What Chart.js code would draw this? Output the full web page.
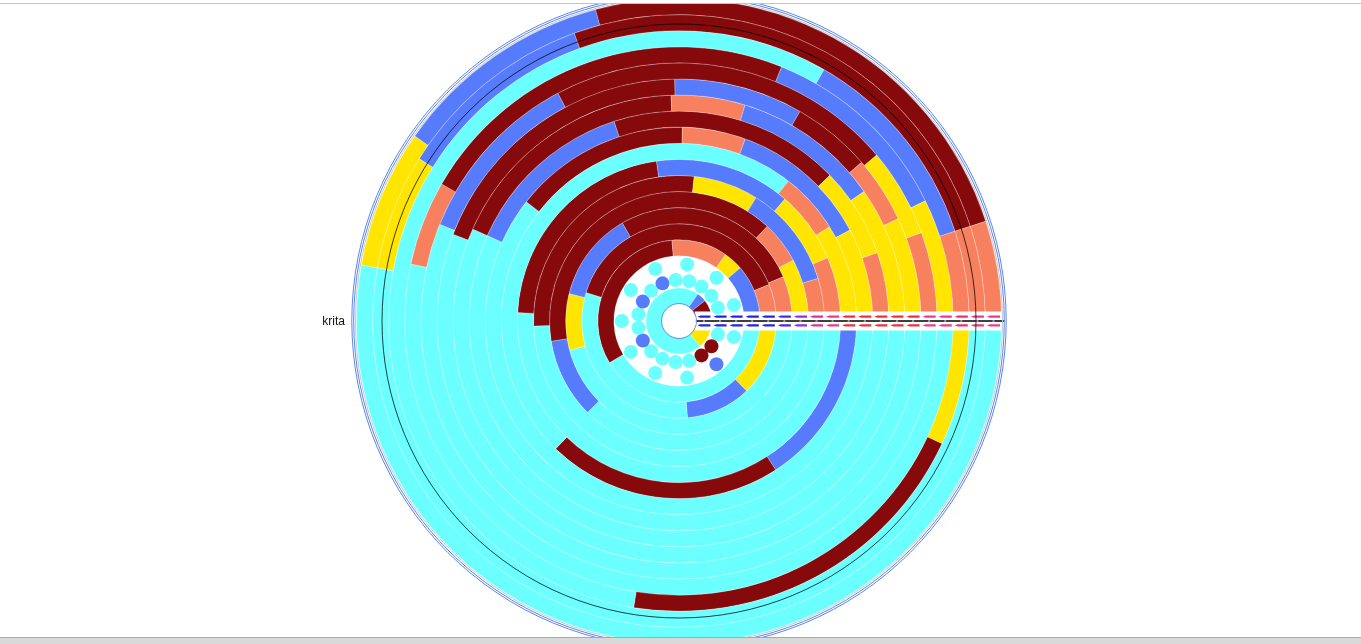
<!DOCTYPE html>
<html>
<head>
<meta charset="utf-8">
<script src="https://cdn.jsdelivr.net/npm/chart.js@4.4.1/dist/chart.umd.min.js"></script>
<style>
  html, body { margin: 0; padding: 0; background: #fff; }
  body { width: 1361px; height: 644px; position: relative; overflow: hidden; font-family: "Liberation Sans", Arial, sans-serif; }
  #topline { position: absolute; left: 0; top: 3px; width: 1361px; height: 1px; background: #c4c4c4; }
  #wrap { position: absolute; left: 0; top: 4px; width: 1361px; height: 633px; overflow: hidden; }
  #wrap canvas { position: absolute; left: 0; top: -8px; }
  #label { position: absolute; left: 300px; width: 45px; text-align: right; top: 314px; font-size: 12px; line-height: 14px; color: #111; }
  #bottombar { position: absolute; left: 0; top: 637px; width: 1361px; height: 7px; background: #d9d9d9; border-top: 1px solid #a8a8a8; }
</style>
</head>
<body>
<div id="topline"></div>
<div id="wrap">
  <canvas id="rings" width="1358" height="650"></canvas>
  <canvas id="dotsIn" width="1358" height="650"></canvas>
  <canvas id="dotsOut" width="1358" height="650"></canvas>
</div>
<div id="label">krita</div>
<div id="bottombar"></div>
<script>
const COLORS = { C: '#6bffff', B: '#567cfd', R: '#860a0c', S: '#f7805f', Y: '#ffe500' };

// ring segments, clockwise from 3 o'clock: [category, degrees]
const core   = [['Y', 50], ['C', 255], ['B', 17], ['R', 38]];
const ring1  = [['C', 149], ['R', 116], ['S', 40], ['Y', 14], ['B', 41]];
const ring2  = [['Y', 46], ['B', 39], ['C', 112], ['R', 141], ['S', 22]];
const ring3  = [['C', 165], ['Y', 29], ['B', 46], ['R', 97], ['S', 23]];
const ring4  = [['C', 135], ['B', 36], ['R', 142], ['S', 19], ['Y', 28]];
const ring5  = [['C', 178], ['R', 98], ['Y', 26], ['B', 41], ['S', 17]];
const ring6  = [['C', 183], ['R', 79], ['B', 49], ['Y', 26], ['S', 23]];
const ring7  = [['B', 57], ['R', 77], ['C', 174], ['S', 20], ['Y', 32]];
const ring8  = [['C', 218], ['R', 53], ['S', 19], ['B', 42], ['Y', 28]];
const ring9  = [['C', 204], ['B', 48], ['R', 64], ['Y', 25], ['S', 19]];
const ring10 = [['C', 204], ['R', 64], ['S', 19], ['B', 38], ['Y', 35]];
const ring11 = [['C', 201], ['R', 68], ['B', 31], ['R', 19], ['S', 16], ['Y', 25]];
const ring12 = [['C', 202], ['B', 40], ['R', 78], ['Y', 20], ['S', 20]];
const ring13 = [['C', 192], ['S', 18], ['R', 82], ['B', 42], ['Y', 26]];
const ring14 = [['Y', 25], ['R', 74], ['C', 201], ['B', 42], ['S', 18]];
const ring15 = [['C', 190], ['Y', 22], ['B', 38], ['R', 92], ['S', 18]];
const ring16 = [['C', 190], ['Y', 25], ['B', 40], ['R', 87], ['S', 18]];

// dots in the two inner circles, clockwise from 3 o'clock
const innerDots = [null, 'C', 'R', 'R', 'C', 'C', 'C', 'C', 'B', 'C', 'C', 'B', 'C', 'B', 'C', 'C', 'C', 'C', 'C'];
const outerDots = ['C', 'B', 'C', 'C', 'C', 'C', 'C', 'C', 'C', 'C', 'C'];

const label = 'krita';

const RADIUS = 322.5;
const CUT = 17;
const SLOTS = 19;
const ringW = (RADIUS - CUT) / SLOTS;

const dashColors = ['#2424e6', '#2424e6', '#2424e6', '#2424e6', '#2424e6', '#4a2ae6', '#8a34e0', '#d8339e',
  '#ec3a86', '#f03038', '#f03038', '#f03038', '#f03038', '#f03038', '#ec3a86', '#ea3a8c', '#f0306a', '#ea3a8c', '#ea3a8c'];

function ringSet(segs) {
  return {
    data: segs.map(s => s[1]),
    backgroundColor: segs.map(s => COLORS[s[0]]),
    borderColor: 'rgba(255,255,255,0.5)',
    borderWidth: 0.5,
    weight: 1
  };
}

const outerToInner = [ring16, ring15, ring14, ring13, ring12, ring11, ring10, ring9, ring8, ring7, ring6, ring5, ring4, ring3, ring2, ring1];
const datasets = outerToInner.map(ringSet);
datasets.push({ data: [1], backgroundColor: 'rgba(0,0,0,0)', borderWidth: 0, weight: 2 });
datasets.push(ringSet(core));

// white strip with the dashes along the start line
const stripPlugin = {
  id: 'strip',
  afterDatasetsDraw(chart) {
    const metas = chart.getSortedVisibleDatasetMetas();
    const a0 = metas[0].data[0];
    const cx = a0.x, cy = a0.y;
    const outer = a0.outerRadius;
    const inner = metas[metas.length - 1].data[0].innerRadius;
    const w = (outer - inner) / SLOTS;
    const ctx = chart.ctx;
    ctx.save();
    ctx.fillStyle = '#fff';
    ctx.fillRect(cx + inner - 1, cy - 9.5, outer - inner + 2, 19);
    for (let i = 0; i < SLOTS; i++) {
      const x0 = cx + inner + i * w + 1.5;
      const x1 = cx + inner + (i + 1) * w - 1.5;
      ctx.fillStyle = dashColors[i];
      [cy - 4.3, cy + 4.3].forEach(y => {
        ctx.beginPath();
        ctx.moveTo(x0, y);
        ctx.lineTo(x0 + 3, y - 1.1);
        ctx.lineTo(x1, y - 1.1);
        ctx.lineTo(x1, y + 1.1);
        ctx.lineTo(x0 + 3, y + 1.1);
        ctx.closePath();
        ctx.fill();
      });
    }
    ctx.strokeStyle = '#000';
    ctx.lineWidth = 1.6;
    ctx.beginPath();
    ctx.moveTo(cx + inner, cy);
    ctx.lineTo(cx + outer + 3, cy);
    ctx.stroke();
    ctx.fillStyle = '#9a9a9a';
    for (let i = 0; i < SLOTS; i++) {
      ctx.fillRect(cx + inner + (i + 0.5) * w - 1, cy - 1, 2, 2);
    }
    ctx.restore();
  }
};

new Chart(document.getElementById('rings'), {
  type: 'doughnut',
  data: { datasets },
  options: {
    responsive: false,
    animation: false,
    events: [],
    rotation: 90,
    radius: RADIUS,
    cutout: CUT,
    plugins: { legend: { display: false }, tooltip: { enabled: false } }
  },
  plugins: [stripPlugin]
});

const circleValues = [0, CUT + 0.5, 297, 323.5, 325.3, 327.2];
const circleColors = ['#000', '#6f8fe8', 'rgba(0,0,0,0.75)', '#c8c8c8', '#5b86ee', '#5b86ee'];

function dotChart(id, keys, r, startAngle, circles) {
  return new Chart(document.getElementById(id), {
    type: 'radar',
    data: {
      labels: keys.map(() => ''),
      datasets: [{
        data: keys.map(k => k ? r : null),
        pointBackgroundColor: keys.map(k => k ? COLORS[k] : 'rgba(0,0,0,0)'),
        pointBorderWidth: 0,
        pointRadius: 7,
        showLine: false,
        borderWidth: 0,
        fill: false
      }]
    },
    options: {
      responsive: false,
      animation: false,
      events: [],
      plugins: { legend: { display: false }, tooltip: { enabled: false } },
      scales: {
        r: {
          min: 0,
          max: 325,
          startAngle: startAngle,
          ticks: { display: false },
          pointLabels: { display: false },
          angleLines: { display: false },
          grid: circles ? {
            display: true,
            circular: true,
            lineWidth: 1,
            color: c => circleColors[c.index]
          } : { display: false },
          afterBuildTicks: circles ? (s => { s.ticks = circleValues.map(v => ({ value: v })); }) : undefined
        }
      }
    }
  });
}

dotChart('dotsIn', innerDots, CUT + ringW * 1.5, 90, false);
dotChart('dotsOut', outerDots, CUT + ringW * 2.5, 90 + 360 / outerDots.length / 2, true);

document.getElementById('label').textContent = label;
</script>
</body>
</html>
